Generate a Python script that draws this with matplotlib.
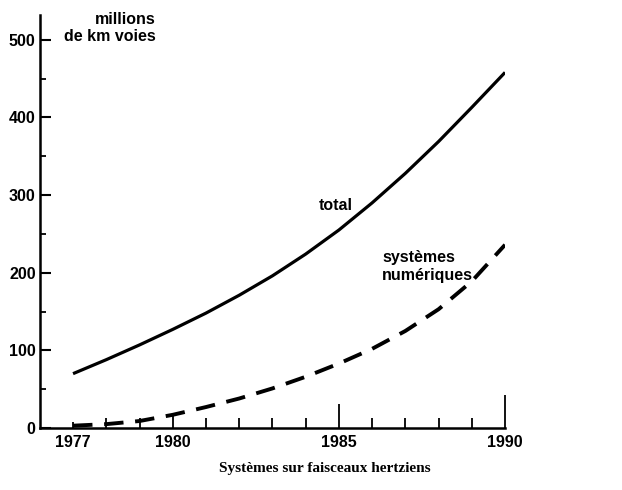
import numpy as np
import matplotlib.pyplot as plt

# trafic en millions de km voies, systemes sur faisceaux hertziens
years = [1977, 1978, 1979, 1980, 1981, 1982, 1983, 1984, 1985,
         1986, 1987, 1988, 1989, 1990]
total = [70, 88, 107, 127, 148, 171, 196, 224, 255,
         290, 328, 369, 413, 458]
numeriques = [3, 5, 9, 17, 27, 38, 51, 66, 83,
              102, 125, 153, 189, 236]

year_labels = [1977, 1980, 1985, 1990]
y_ticks = [0, 100, 200, 300, 400, 500]

plt.rcParams['font.family'] = ['Liberation Sans', 'DejaVu Sans']

fig = plt.figure(figsize=(6.22, 4.9), dpi=100)
ax = fig.add_axes([0.064, 0.1265, 0.748, 0.843])

ax.plot(years, total, color='black', lw=2.3, solid_capstyle='butt')
ax.plot(years, numeriques, color='black', lw=2.8,
        dashes=(5, 3), dash_capstyle='butt')

ax.set_xlim(1976, 1990)
ax.set_ylim(0, 532)

ax.spines['top'].set_visible(False)
ax.spines['right'].set_visible(False)
ax.spines['left'].set_linewidth(1.8)
ax.spines['bottom'].set_linewidth(1.8)

# axe des x : une graduation par an, plus longue aux annees reperes
ax.set_xticks(year_labels)
ax.set_xticklabels([str(y) for y in year_labels], fontsize=11.5,
                   fontweight='bold')
ax.set_xticks([y for y in years if y not in year_labels], minor=True)
ax.tick_params(axis='x', which='both', direction='in', width=1.3, pad=5)
ax.tick_params(axis='x', which='minor', length=7)
for tick, ln in zip(ax.xaxis.get_major_ticks(), [4, 10, 17, 24]):
    tick.tick1line.set_markersize(ln)
ax.get_xticklabels()[-1].set_x(1990.15)

ax.set_yticks(y_ticks)
ax.set_yticklabels([str(v) for v in y_ticks], fontsize=11.5,
                   fontweight='bold')
ax.set_yticks([50, 150, 250, 350, 450], minor=True)
ax.tick_params(axis='y', which='major', direction='in', length=8, width=1.5, pad=3)
ax.tick_params(axis='y', which='minor', direction='in', length=4, width=1.3)

ax.text(1979.5, 494, 'millions\nde km voies', fontsize=11.5,
        fontweight='bold', ha='right', va='bottom', linespacing=1.2)
ax.text(1984.9, 287, 'total', fontsize=11.5, fontweight='bold',
        ha='center', va='center')
ax.text(1986.3, 208, 'systèmes\nnumériques', fontsize=11.5,
        fontweight='bold', ha='left', va='center', linespacing=1.3)

fig.text(0.523, 0.043, 'Systèmes sur faisceaux hertziens', fontsize=11,
         fontfamily='Liberation Serif', fontweight='bold', ha='center',
         va='center')

fig.savefig('out.png', dpi=100)
